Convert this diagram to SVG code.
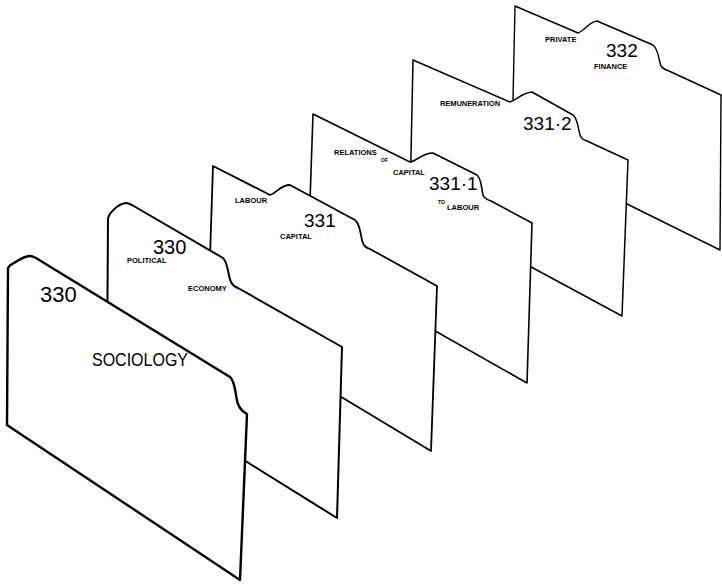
<svg xmlns="http://www.w3.org/2000/svg" width="722" height="584" viewBox="0 0 722 584">
<style>
.card{fill:#fff;stroke:#000;stroke-linejoin:round;stroke-linecap:round}
.t{font-family:"Liberation Sans",Arial,sans-serif;fill:#000}
.num{font-size:19px}
.lbl{font-size:7.5px;font-weight:bold}
.tiny{font-size:5px;font-weight:bold}
</style>
<rect width="722" height="584" fill="#fff"/>
<g id="card-332">
<path class="card" stroke-width="1.4" d="M515,6 L578,33 C585,30 589,22 597,21 L653,45 C659,50 659,62 661,66 C663,69 666,70 669,71 L721,95 L720,250 L627,204 L512,147 Z"/>
<text class="t num" x="606" y="57">332</text>
<text class="t lbl" x="545" y="42">PRIVATE</text>
<text class="t lbl" x="594" y="69">FINANCE</text>
</g>
<g id="card-331-2">
<path class="card" stroke-width="1.5" d="M413,60 L510,102 C516,100 522,93 532,92 L573,115 C579,120 578,133 581,137 C582,139 584,140 587,141 L628,160 L622,316 L533,268 L410,202 Z"/>
<text class="t num" x="523" y="130">331·2</text>
<text class="t lbl" x="440" y="106" textLength="60" lengthAdjust="spacingAndGlyphs">REMUNERATION</text>
</g>
<g id="card-331-1">
<path class="card" stroke-width="1.6" d="M313,114 L410,162 C417,161 422,153 433,153 L477,175 C483,181 481,193 484,197 C486,199 488,200 491,201 L532,223 L527,383 L437,332 L308,259 Z"/>
<text class="t num" x="429" y="190">331·1</text>
<text class="t lbl" x="334" y="155">RELATIONS</text>
<text class="t tiny" x="381" y="162">OF</text>
<text class="t lbl" x="393" y="175">CAPITAL</text>
<text class="t tiny" x="438" y="204">TO</text>
<text class="t lbl" x="447" y="210">LABOUR</text>
</g>
<g id="card-331">
<path class="card" stroke-width="1.8" d="M213,166 L270,195 C277,193 280,185 290,185 L355,220 C362,226 360,240 364,245 C365,247 367,248 370,249 L437,286 L431,451 L343,398 L208,317 Z"/>
<text class="t num" x="304" y="227">331</text>
<text class="t lbl" x="235" y="203">LABOUR</text>
<text class="t lbl" x="280" y="239">CAPITAL</text>
</g>
<g id="card-330-political-economy">
<path class="card" stroke-width="2" d="M108,218 C110,212 118,204 126,203 C128,203 130,204 132,205 L223,258 C228,262 228,276 231,282 C233,286 235,287 238,288 L342,347 L337,518 L247,462 L107,375 Z"/>
<text class="t" font-size="20" x="153" y="254">330</text>
<text class="t lbl" x="127" y="263">POLITICAL</text>
<text class="t lbl" x="188" y="291">ECONOMY</text>
</g>
<g id="card-330-sociology">
<path class="card" stroke-width="2.4" d="M8,268 C10,264 12,264 14,263 C20,259 25,256 30,256 C32,256 34,257 36,258 L230,377 C236,382 235,396 238,404 C240,409 243,412 247,414 L240,580 L7,425 Z"/>
<text class="t" font-size="22" x="40" y="302">330</text>
<text class="t" font-size="19" x="92" y="366" textLength="96" lengthAdjust="spacingAndGlyphs">SOCIOLOGY</text>
</g>
</svg>
